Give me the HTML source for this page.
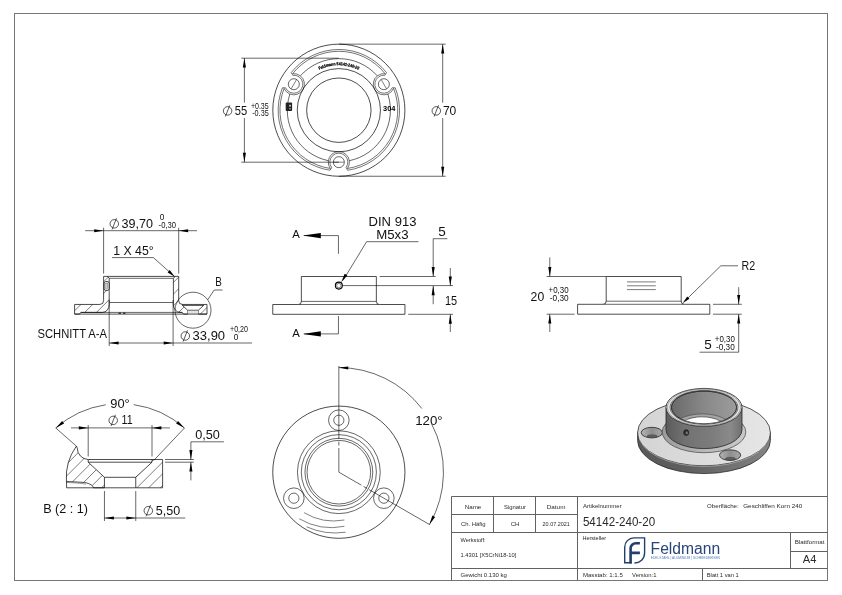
<!DOCTYPE html>
<html lang="de"><head><meta charset="utf-8"><title>54142-240-20</title>
<style>
html,body{margin:0;padding:0;background:#fff;}
body{width:842px;height:595px;overflow:hidden;}
svg{display:block;font-family:"Liberation Sans",sans-serif;will-change:transform;}
</style></head><body>
<svg width="842" height="595" viewBox="0 0 842 595">
<rect width="842" height="595" fill="#fff"/>
<rect x="14.5" y="13.5" width="813" height="567" fill="none" stroke="#767676" stroke-width="1"/>
<line x1="451.5" y1="496.5" x2="827.5" y2="496.5" stroke="#626262" stroke-width="1" />
<line x1="451.5" y1="496.5" x2="451.5" y2="580.5" stroke="#626262" stroke-width="1" />
<line x1="451.5" y1="514.5" x2="577.5" y2="514.5" stroke="#626262" stroke-width="1" />
<line x1="451.5" y1="532.5" x2="827.5" y2="532.5" stroke="#626262" stroke-width="1" />
<line x1="451.5" y1="568.5" x2="827.5" y2="568.5" stroke="#626262" stroke-width="1" />
<line x1="790.5" y1="551.5" x2="827.5" y2="551.5" stroke="#626262" stroke-width="1" />
<line x1="493.5" y1="496.5" x2="493.5" y2="532.5" stroke="#626262" stroke-width="1" />
<line x1="535.5" y1="496.5" x2="535.5" y2="532.5" stroke="#626262" stroke-width="1" />
<line x1="577.5" y1="496.5" x2="577.5" y2="580.5" stroke="#626262" stroke-width="1" />
<line x1="702.5" y1="568.5" x2="702.5" y2="580.5" stroke="#626262" stroke-width="1" />
<line x1="790.5" y1="532.5" x2="790.5" y2="568.5" stroke="#626262" stroke-width="1" />
<text x="464.7" y="508.5" font-size="6" text-anchor="start" fill="#2a2a2a" textLength="16.6" lengthAdjust="spacingAndGlyphs" >Name</text>
<text x="504" y="508.5" font-size="6" text-anchor="start" fill="#2a2a2a" textLength="22" lengthAdjust="spacingAndGlyphs" >Signatur</text>
<text x="546.8" y="508.5" font-size="6" text-anchor="start" fill="#2a2a2a" textLength="18.6" lengthAdjust="spacingAndGlyphs" >Datum</text>
<text x="460.9" y="525.9" font-size="6" text-anchor="start" fill="#2a2a2a" textLength="24.6" lengthAdjust="spacingAndGlyphs" >Ch. Häfig</text>
<text x="510.7" y="525.9" font-size="6" text-anchor="start" fill="#2a2a2a" textLength="8.8" lengthAdjust="spacingAndGlyphs" >CH</text>
<text x="542.6" y="525.9" font-size="6" text-anchor="start" fill="#2a2a2a" textLength="27.2" lengthAdjust="spacingAndGlyphs" >20.07.2021</text>
<text x="460.5" y="542.3" font-size="6" text-anchor="start" fill="#2a2a2a" textLength="25.2" lengthAdjust="spacingAndGlyphs" >Werkstoff:</text>
<text x="460.5" y="556.6" font-size="6" text-anchor="start" fill="#2a2a2a" textLength="55.8" lengthAdjust="spacingAndGlyphs" >1.4301 [X5CrNi18-10]</text>
<text x="460.5" y="577.1" font-size="6" text-anchor="start" fill="#2a2a2a" textLength="46.4" lengthAdjust="spacingAndGlyphs" >Gewicht 0.130 kg</text>
<text x="582.9" y="508.2" font-size="6" text-anchor="start" fill="#2a2a2a" textLength="38.8" lengthAdjust="spacingAndGlyphs" >Artikelnummer</text>
<text x="582.9" y="526" font-size="12.4" text-anchor="start" fill="#2a2a2a" textLength="72.2" lengthAdjust="spacingAndGlyphs" >54142-240-20</text>
<text x="707.1" y="508.2" font-size="6" text-anchor="start" fill="#2a2a2a" textLength="31.6" lengthAdjust="spacingAndGlyphs" >Oberfläche:</text>
<text x="743.2" y="508.2" font-size="6" text-anchor="start" fill="#2a2a2a" textLength="59.1" lengthAdjust="spacingAndGlyphs" >Geschliffen Korn 240</text>
<text x="582.4" y="540.1" font-size="6" text-anchor="start" fill="#2a2a2a" textLength="23.7" lengthAdjust="spacingAndGlyphs" >Hersteller</text>
<text x="794.7" y="544.3" font-size="6" text-anchor="start" fill="#2a2a2a" textLength="29.8" lengthAdjust="spacingAndGlyphs" >Blattformat</text>
<text x="802.8" y="562.9" font-size="10.6" text-anchor="start" fill="#2a2a2a" textLength="13.6" lengthAdjust="spacingAndGlyphs" >A4</text>
<text x="582.9" y="577.1" font-size="6" text-anchor="start" fill="#2a2a2a" textLength="39.9" lengthAdjust="spacingAndGlyphs" >Masstab: 1:1.5</text>
<text x="632.1" y="577.1" font-size="6" text-anchor="start" fill="#2a2a2a" textLength="24.4" lengthAdjust="spacingAndGlyphs" >Version:1</text>
<text x="706.8" y="577.1" font-size="6" text-anchor="start" fill="#2a2a2a" textLength="31.9" lengthAdjust="spacingAndGlyphs" >Blatt 1 van 1</text>
<circle cx="338.85" cy="110.2" r="66.05" stroke="#000" stroke-width="0.7" fill="none"/>
<circle cx="338.85" cy="110.2" r="41.6" stroke="#000" stroke-width="0.7" fill="none"/>
<circle cx="338.85" cy="110.2" r="32.2" stroke="#000" stroke-width="0.7" fill="none"/>
<path d="M330.33 168.48A58.9 58.9 0 0 1 284.12 88.43L284.12 88.43A10.6 10.6 0 1 0 292.64 73.68L292.64 73.68A58.9 58.9 0 0 1 385.06 73.68L385.06 73.68A10.6 10.6 0 1 0 393.58 88.43L393.58 88.43A58.9 58.9 0 0 1 347.37 168.48L347.37 168.48A10.6 10.6 0 1 0 330.33 168.48L330.33 168.48Z" stroke="#000" stroke-width="0.55" fill="none" stroke-linejoin="round"/>
<path d="M330.07 170.26A60.7 60.7 0 0 1 282.45 87.77L285.59 87.8A9 9 0 1 0 292.82 75.27L291.22 72.57A60.7 60.7 0 0 1 386.48 72.57L384.88 75.27A9 9 0 1 0 392.11 87.8L395.25 87.77A60.7 60.7 0 0 1 347.63 170.26L346.08 167.53A9 9 0 1 0 331.62 167.53L330.07 170.26Z" stroke="#000" stroke-width="0.55" fill="none" stroke-linejoin="round"/>
<path d="M328.39 160.7A51.57 51.57 0 0 1 289.89 94.01" stroke="#000" stroke-width="0.6" fill="none" />
<path d="M300.35 75.89A51.57 51.57 0 0 1 377.35 75.89" stroke="#000" stroke-width="0.6" fill="none" />
<path d="M387.81 94.01A51.57 51.57 0 0 1 349.31 160.7" stroke="#000" stroke-width="0.6" fill="none" />
<circle cx="338.85" cy="162.17" r="5.5" stroke="#000" stroke-width="0.6" fill="none"/>
<line x1="344.15" y1="162.17" x2="333.55" y2="162.17" stroke="#000" stroke-width="0.5" />
<circle cx="293.84" cy="84.22" r="5.5" stroke="#000" stroke-width="0.6" fill="none"/>
<line x1="291.19" y1="88.8" x2="296.49" y2="79.63" stroke="#000" stroke-width="0.5" />
<circle cx="383.86" cy="84.21" r="5.5" stroke="#000" stroke-width="0.6" fill="none"/>
<line x1="381.21" y1="79.63" x2="386.51" y2="88.8" stroke="#000" stroke-width="0.5" />
<path id="engr" d="M318.47 70.19A44.9 44.9 0 0 1 359.23 70.19" fill="none" stroke="none"/>
<text font-size="4.3" font-weight="bold" fill="#000" stroke="#000" stroke-width="0.25" text-anchor="middle"><textPath href="#engr" startOffset="50%" textLength="40.5" lengthAdjust="spacingAndGlyphs">Feldmann 54142-240-20</textPath></text>
<text x="389.3" y="110.6" font-size="6.4" text-anchor="middle" fill="#000" textLength="12.4" lengthAdjust="spacingAndGlyphs" font-weight="bold">304</text>
<rect x="285.7" y="102.6" width="6.4" height="8.4" rx="1" fill="#222"/>
<rect x="289" y="104.8" width="2" height="1.8" fill="#bbb"/>
<path d="M288.6 108.6h2.6l-1 1z" fill="#eee"/>
<line x1="241.3" y1="58.2" x2="338.85" y2="58.2" stroke="#000" stroke-width="0.6" />
<line x1="241.3" y1="162.2" x2="338.85" y2="162.2" stroke="#000" stroke-width="0.6" />
<line x1="244.4" y1="58.2" x2="244.4" y2="102.7" stroke="#000" stroke-width="0.6" />
<line x1="244.4" y1="118" x2="244.4" y2="162.2" stroke="#000" stroke-width="0.6" />
<polygon points="244.4,58.2 245.95,67.6 242.85,67.6" fill="#000"/>
<polygon points="244.4,162.2 242.85,152.8 245.95,152.8" fill="#000"/>
<circle cx="227.6" cy="110.9" r="4.25" stroke="#000" stroke-width="0.65" fill="none"/>
<line x1="225.39" y1="116.51" x2="229.81" y2="105.29" stroke="#000" stroke-width="0.65" />
<text x="234.7" y="114.9" font-size="13.5" text-anchor="start" fill="#111" textLength="12.4" lengthAdjust="spacingAndGlyphs" >55</text>
<text x="250.9" y="108.7" font-size="8.3" text-anchor="start" fill="#111" textLength="17.8" lengthAdjust="spacingAndGlyphs" >+0.35</text>
<text x="252.2" y="115.9" font-size="8.3" text-anchor="start" fill="#111" textLength="16.5" lengthAdjust="spacingAndGlyphs" >-0.35</text>
<line x1="338.85" y1="44.15" x2="445.7" y2="44.15" stroke="#000" stroke-width="0.6" />
<line x1="338.85" y1="176.25" x2="445.7" y2="176.25" stroke="#000" stroke-width="0.6" />
<line x1="442.7" y1="44.15" x2="442.7" y2="102.7" stroke="#000" stroke-width="0.6" />
<line x1="442.7" y1="118" x2="442.7" y2="176.25" stroke="#000" stroke-width="0.6" />
<polygon points="442.7,44.15 444.25,53.55 441.15,53.55" fill="#000"/>
<polygon points="442.7,176.25 441.15,166.85 444.25,166.85" fill="#000"/>
<circle cx="436.3" cy="110.9" r="4.25" stroke="#000" stroke-width="0.65" fill="none"/>
<line x1="434.09" y1="116.51" x2="438.51" y2="105.29" stroke="#000" stroke-width="0.65" />
<text x="442.9" y="114.9" font-size="13.5" text-anchor="start" fill="#111" textLength="13.4" lengthAdjust="spacingAndGlyphs" >70</text>
<clipPath id="hc1"><path d="M103.6 276.4L107.3 276.4L109.2 278.3L109.2 304.75A6.8 7.7 0 0 1 102.4 312.4L80.8 312.4L79.6 314.1L74.6 314.1L74.6 304.45L99.8 304.45Q103.6 304.45 103.6 300.65Z"/></clipPath>
<g clip-path="url(#hc1)">
<line x1="73.6" y1="276.61" x2="110.2" y2="240.01" stroke="#111" stroke-width="0.55" />
<line x1="73.6" y1="288.34" x2="110.2" y2="251.74" stroke="#111" stroke-width="0.55" />
<line x1="73.6" y1="300.07" x2="110.2" y2="263.47" stroke="#111" stroke-width="0.55" />
<line x1="73.6" y1="311.8" x2="110.2" y2="275.2" stroke="#111" stroke-width="0.55" />
<line x1="73.6" y1="323.53" x2="110.2" y2="286.93" stroke="#111" stroke-width="0.55" />
<line x1="73.6" y1="335.26" x2="110.2" y2="298.66" stroke="#111" stroke-width="0.55" />
<line x1="73.6" y1="346.99" x2="110.2" y2="310.39" stroke="#111" stroke-width="0.55" />
<line x1="73.6" y1="358.72" x2="110.2" y2="322.12" stroke="#111" stroke-width="0.55" />
</g>
<path d="M103.6 276.4L107.3 276.4L109.2 278.3L109.2 304.75A6.8 7.7 0 0 1 102.4 312.4L80.8 312.4L79.6 314.1L74.6 314.1L74.6 304.45L99.8 304.45Q103.6 304.45 103.6 300.65Z" stroke="#000" stroke-width="0.7" fill="none" />
<rect x="103.9" y="281.4" width="5.3" height="9.2" fill="#fff" stroke="none"/>
<rect x="104" y="281.7" width="5.2" height="8.6" rx="1.4" fill="#fff" stroke="#111" stroke-width="0.9"/>
<rect x="104.9" y="283.6" width="3" height="4.6" fill="#ccc" stroke="#555" stroke-width="0.4"/>
<clipPath id="hc2"><path d="M178.7 276.4L175.3 276.4L173.4 278.3L173.4 304.75A6.8 7.7 0 0 0 180.2 312.4L182.2 312.4L183.4 314.1L187.6 314.1L187.6 310.2L182.4 305.4L182.4 304.45L182.5 304.45Q178.7 304.45 178.7 300.65Z"/></clipPath>
<g clip-path="url(#hc2)">
<line x1="172.4" y1="271.65" x2="194" y2="250.05" stroke="#111" stroke-width="0.55" />
<line x1="172.4" y1="283.38" x2="194" y2="261.78" stroke="#111" stroke-width="0.55" />
<line x1="172.4" y1="295.11" x2="194" y2="273.51" stroke="#111" stroke-width="0.55" />
<line x1="172.4" y1="306.84" x2="194" y2="285.24" stroke="#111" stroke-width="0.55" />
<line x1="172.4" y1="318.57" x2="194" y2="296.97" stroke="#111" stroke-width="0.55" />
<line x1="172.4" y1="330.3" x2="194" y2="308.7" stroke="#111" stroke-width="0.55" />
<line x1="172.4" y1="342.03" x2="194" y2="320.43" stroke="#111" stroke-width="0.55" />
</g>
<path d="M178.7 276.4L175.3 276.4L173.4 278.3L173.4 304.75A6.8 7.7 0 0 0 180.2 312.4L182.2 312.4L183.4 314.1L187.6 314.1L187.6 310.2L182.4 305.4L182.4 304.45L182.5 304.45Q178.7 304.45 178.7 300.65Z" stroke="#000" stroke-width="0.7" fill="none" />
<clipPath id="hc3"><path d="M203.6 304.45L207 304.45L207 314.1L198.4 314.1L198.4 310.2L203.6 305.4Z"/></clipPath>
<g clip-path="url(#hc3)">
<line x1="192" y1="298.97" x2="208" y2="282.97" stroke="#111" stroke-width="0.55" />
<line x1="192" y1="310.7" x2="208" y2="294.7" stroke="#111" stroke-width="0.55" />
<line x1="192" y1="322.43" x2="208" y2="306.43" stroke="#111" stroke-width="0.55" />
<line x1="192" y1="334.16" x2="208" y2="318.16" stroke="#111" stroke-width="0.55" />
</g>
<path d="M203.6 304.45L207 304.45L207 314.1L198.4 314.1L198.4 310.2L203.6 305.4Z" stroke="#000" stroke-width="0.7" fill="none" />
<rect x="187.6" y="310.2" width="10.8" height="3.9" fill="#e4e4e4"/>
<line x1="182.4" y1="304.45" x2="203.6" y2="304.45" stroke="#000" stroke-width="0.7" />
<line x1="182.4" y1="305.4" x2="203.6" y2="305.4" stroke="#000" stroke-width="0.7" />
<line x1="187.6" y1="310.2" x2="198.4" y2="310.2" stroke="#000" stroke-width="0.6" />
<line x1="107.3" y1="276.4" x2="175.3" y2="276.4" stroke="#000" stroke-width="0.7" />
<line x1="109.2" y1="278.3" x2="173.4" y2="278.3" stroke="#000" stroke-width="0.6" />
<line x1="109.2" y1="302.5" x2="173.4" y2="302.5" stroke="#555" stroke-width="0.9" />
<line x1="80.8" y1="312.4" x2="182.2" y2="312.4" stroke="#000" stroke-width="0.6" />
<line x1="74.6" y1="314.1" x2="207" y2="314.1" stroke="#000" stroke-width="0.7" />
<line x1="118.5" y1="313.2" x2="121" y2="313.2" stroke="#000" stroke-width="1" />
<line x1="123" y1="313.2" x2="125.5" y2="313.2" stroke="#000" stroke-width="1" />
<line x1="85.2" y1="230.7" x2="197" y2="230.7" stroke="#000" stroke-width="0.6" />
<line x1="103.6" y1="227.7" x2="103.6" y2="273.6" stroke="#000" stroke-width="0.6" />
<line x1="178.7" y1="227.7" x2="178.7" y2="273.6" stroke="#000" stroke-width="0.6" />
<polygon points="103.6,230.7 94.2,232.25 94.2,229.15" fill="#000"/>
<polygon points="178.7,230.7 188.1,229.15 188.1,232.25" fill="#000"/>
<circle cx="114.3" cy="223.8" r="4.25" stroke="#000" stroke-width="0.65" fill="none"/>
<line x1="112.09" y1="229.41" x2="116.51" y2="218.19" stroke="#000" stroke-width="0.65" />
<text x="121.6" y="227.8" font-size="13.5" text-anchor="start" fill="#111" textLength="31.5" lengthAdjust="spacingAndGlyphs" >39,70</text>
<text x="162" y="220.2" font-size="8.3" text-anchor="middle" fill="#111" >0</text>
<text x="158.6" y="227.8" font-size="8.3" text-anchor="start" fill="#111" textLength="17.5" lengthAdjust="spacingAndGlyphs" >-0,30</text>
<text x="113.2" y="255" font-size="13.5" text-anchor="start" fill="#111" textLength="40.5" lengthAdjust="spacingAndGlyphs" >1 X 45°</text>
<line x1="112" y1="257.6" x2="153.4" y2="257.6" stroke="#000" stroke-width="0.6" />
<line x1="153.4" y1="257.6" x2="174.3" y2="276.3" stroke="#000" stroke-width="0.6" />
<polygon points="174.6,276.6 167.61,272.41 169.68,270.11" fill="#000"/>
<circle cx="193" cy="310.2" r="18" stroke="#000" stroke-width="0.6" fill="none"/>
<line x1="207.7" y1="299.8" x2="214.2" y2="290" stroke="#000" stroke-width="0.6" />
<line x1="214.2" y1="290" x2="222.6" y2="290" stroke="#000" stroke-width="0.6" />
<text x="215.2" y="286.3" font-size="13.5" text-anchor="start" fill="#111" textLength="6.6" lengthAdjust="spacingAndGlyphs" >B</text>
<line x1="109.2" y1="343" x2="252" y2="343" stroke="#000" stroke-width="0.6" />
<line x1="109.2" y1="300" x2="109.2" y2="346" stroke="#000" stroke-width="0.6" />
<line x1="173.1" y1="300" x2="173.1" y2="346" stroke="#000" stroke-width="0.6" />
<polygon points="109.2,343 118.6,341.45 118.6,344.55" fill="#000"/>
<polygon points="173.1,343 163.7,344.55 163.7,341.45" fill="#000"/>
<circle cx="185.3" cy="336" r="4.25" stroke="#000" stroke-width="0.65" fill="none"/>
<line x1="183.09" y1="341.61" x2="187.51" y2="330.39" stroke="#000" stroke-width="0.65" />
<text x="192.6" y="340" font-size="13.5" text-anchor="start" fill="#111" textLength="32.5" lengthAdjust="spacingAndGlyphs" >33,90</text>
<text x="230" y="332.4" font-size="8.3" text-anchor="start" fill="#111" textLength="18" lengthAdjust="spacingAndGlyphs" >+0,20</text>
<text x="236" y="340" font-size="8.3" text-anchor="middle" fill="#111" >0</text>
<text x="37.5" y="337.9" font-size="13.5" text-anchor="start" fill="#111" textLength="69.5" lengthAdjust="spacingAndGlyphs" >SCHNITT A-A</text>
<path d="M272.75 304.5H298.35Q301.35 304.5 301.35 301.3V276.5H376.35V301.3Q376.35 304.5 379.35 304.5H404.95V314.3H272.75Z" stroke="#000" stroke-width="0.7" fill="none" />
<line x1="301.35" y1="301.4" x2="376.35" y2="301.4" stroke="#000" stroke-width="0.6" />
<line x1="298.85" y1="304.5" x2="378.85" y2="304.5" stroke="#000" stroke-width="0.6" />
<circle cx="338.85" cy="285.6" r="3.5" stroke="#000" stroke-width="1.1" fill="none"/>
<circle cx="338.85" cy="285.6" r="2.2" stroke="#000" stroke-width="0.5" fill="none"/>
<line x1="343.2" y1="280.2" x2="366.6" y2="241.7" stroke="#000" stroke-width="0.6" />
<line x1="366.6" y1="241.7" x2="418.5" y2="241.7" stroke="#000" stroke-width="0.6" />
<polygon points="341.1,282.6 344.65,273.76 347.3,275.37" fill="#000"/>
<text x="368.6" y="225.8" font-size="13.5" text-anchor="start" fill="#111" textLength="47.8" lengthAdjust="spacingAndGlyphs" >DIN 913</text>
<text x="376.2" y="238.9" font-size="13.5" text-anchor="start" fill="#111" textLength="32.3" lengthAdjust="spacingAndGlyphs" >M5x3</text>
<line x1="338.45" y1="235.6" x2="338.45" y2="253.8" stroke="#000" stroke-width="0.6" />
<line x1="304" y1="235.6" x2="338.45" y2="235.6" stroke="#000" stroke-width="0.6" />
<polygon points="302.8,235.6 320.8,233 320.8,238.2" fill="#000"/>
<text x="292.3" y="238.2" font-size="10.5" text-anchor="start" fill="#111" textLength="7.6" lengthAdjust="spacingAndGlyphs" >A</text>
<line x1="338.45" y1="316" x2="338.45" y2="333.9" stroke="#000" stroke-width="0.6" />
<line x1="304" y1="333.9" x2="338.45" y2="333.9" stroke="#000" stroke-width="0.6" />
<polygon points="302.8,333.9 320.8,331.3 320.8,336.5" fill="#000"/>
<text x="292.3" y="337.3" font-size="10.5" text-anchor="start" fill="#111" textLength="7.6" lengthAdjust="spacingAndGlyphs" >A</text>
<text x="438.2" y="235.9" font-size="13.5" text-anchor="start" fill="#111" >5</text>
<line x1="433.2" y1="238.7" x2="447.4" y2="238.7" stroke="#000" stroke-width="0.6" />
<line x1="433.2" y1="238.7" x2="433.2" y2="276.3" stroke="#000" stroke-width="0.6" />
<polygon points="433.2,276.5 431.65,267.1 434.75,267.1" fill="#000"/>
<line x1="379.6" y1="276.5" x2="435.6" y2="276.5" stroke="#000" stroke-width="0.6" />
<line x1="343" y1="285.6" x2="453" y2="285.6" stroke="#000" stroke-width="0.6" />
<polygon points="433.2,285.8 434.75,295.2 431.65,295.2" fill="#000"/>
<line x1="433.2" y1="285.8" x2="433.2" y2="304.2" stroke="#000" stroke-width="0.6" />
<line x1="450.3" y1="268" x2="450.3" y2="285.8" stroke="#000" stroke-width="0.6" />
<polygon points="450.3,285.8 448.75,276.4 451.85,276.4" fill="#000"/>
<line x1="450.3" y1="314.3" x2="450.3" y2="332" stroke="#000" stroke-width="0.6" />
<polygon points="450.3,314.3 451.85,323.7 448.75,323.7" fill="#000"/>
<line x1="408.2" y1="314.3" x2="453" y2="314.3" stroke="#000" stroke-width="0.6" />
<text x="445" y="305.1" font-size="13.5" text-anchor="start" fill="#111" textLength="12.2" lengthAdjust="spacingAndGlyphs" >15</text>
<path d="M577.6 304.3H603.2Q606.2 304.3 606.2 301.1V276.5H681.2V301.1Q681.2 304.3 684.2 304.3H709.8V314.2H577.6Z" stroke="#000" stroke-width="0.7" fill="none" />
<line x1="606.2" y1="301.2" x2="681.2" y2="301.2" stroke="#000" stroke-width="0.6" />
<line x1="603.7" y1="304.3" x2="683.7" y2="304.3" stroke="#000" stroke-width="0.6" />
<line x1="627" y1="281.9" x2="655.8" y2="281.9" stroke="#222" stroke-width="0.6" />
<line x1="627" y1="285.8" x2="655.8" y2="285.8" stroke="#222" stroke-width="0.6" />
<line x1="627" y1="289.6" x2="655.8" y2="289.6" stroke="#222" stroke-width="0.6" />
<line x1="685.5" y1="300.4" x2="720.8" y2="265.8" stroke="#000" stroke-width="0.6" />
<line x1="720.8" y1="265.8" x2="738" y2="265.8" stroke="#000" stroke-width="0.6" />
<polygon points="682.6,303.2 687.23,296.5 689.4,298.71" fill="#000"/>
<text x="741.6" y="270.2" font-size="13.5" text-anchor="start" fill="#111" textLength="13.6" lengthAdjust="spacingAndGlyphs" >R2</text>
<line x1="549.8" y1="257.4" x2="549.8" y2="276.5" stroke="#000" stroke-width="0.6" />
<polygon points="549.8,276.5 548.25,267.1 551.35,267.1" fill="#000"/>
<line x1="549.8" y1="314.2" x2="549.8" y2="332" stroke="#000" stroke-width="0.6" />
<polygon points="549.8,314.2 551.35,323.6 548.25,323.6" fill="#000"/>
<line x1="546.6" y1="276.5" x2="606.2" y2="276.5" stroke="#000" stroke-width="0.6" />
<line x1="546.6" y1="314.2" x2="574.6" y2="314.2" stroke="#000" stroke-width="0.6" />
<text x="530.6" y="301.4" font-size="13.5" text-anchor="start" fill="#111" textLength="13.6" lengthAdjust="spacingAndGlyphs" >20</text>
<text x="548.6" y="292.6" font-size="8.3" text-anchor="start" fill="#111" textLength="20" lengthAdjust="spacingAndGlyphs" >+0,30</text>
<text x="549.8" y="300.6" font-size="8.3" text-anchor="start" fill="#111" textLength="18.8" lengthAdjust="spacingAndGlyphs" >-0,30</text>
<line x1="738.7" y1="287.2" x2="738.7" y2="304.3" stroke="#000" stroke-width="0.6" />
<polygon points="738.7,304.3 737.15,294.9 740.25,294.9" fill="#000"/>
<line x1="738.7" y1="314.2" x2="738.7" y2="352.2" stroke="#000" stroke-width="0.6" />
<polygon points="738.7,314.2 740.25,323.6 737.15,323.6" fill="#000"/>
<line x1="713" y1="304.3" x2="741.8" y2="304.3" stroke="#000" stroke-width="0.6" />
<line x1="713" y1="314.2" x2="741.8" y2="314.2" stroke="#000" stroke-width="0.6" />
<line x1="699.6" y1="352.2" x2="738.7" y2="352.2" stroke="#000" stroke-width="0.6" />
<text x="704.2" y="349.2" font-size="13.5" text-anchor="start" fill="#111" >5</text>
<text x="714.8" y="341.6" font-size="8.3" text-anchor="start" fill="#111" textLength="20" lengthAdjust="spacingAndGlyphs" >+0,30</text>
<text x="716" y="349.7" font-size="8.3" text-anchor="start" fill="#111" textLength="18.8" lengthAdjust="spacingAndGlyphs" >-0,30</text>
<clipPath id="hc4"><path d="M152 459.5H162.6V487.8H135.75V477.3L152 462.2Z"/></clipPath>
<g clip-path="url(#hc4)">
<line x1="134.75" y1="454.76" x2="163.6" y2="425.91" stroke="#111" stroke-width="0.55" />
<line x1="134.75" y1="466.49" x2="163.6" y2="437.64" stroke="#111" stroke-width="0.55" />
<line x1="134.75" y1="478.22" x2="163.6" y2="449.37" stroke="#111" stroke-width="0.55" />
<line x1="134.75" y1="489.95" x2="163.6" y2="461.1" stroke="#111" stroke-width="0.55" />
<line x1="134.75" y1="501.68" x2="163.6" y2="472.83" stroke="#111" stroke-width="0.55" />
<line x1="134.75" y1="513.41" x2="163.6" y2="484.56" stroke="#111" stroke-width="0.55" />
<line x1="134.75" y1="525.14" x2="163.6" y2="496.29" stroke="#111" stroke-width="0.55" />
</g>
<path d="M152 459.5H162.6V487.8H135.75V477.3L152 462.2Z" stroke="#000" stroke-width="0.7" fill="none" />
<clipPath id="hc5"><path d="M76.4 446.1L77.3 448.2A11.3 11.3 0 0 0 88.2 459.5V462.2L104.45 477.3V487.8H93.6C92.6 485 88.5 482.6 82 482.3C76 482 70 481.7 66.4 481.4A54 54 0 0 1 76.4 446.1Z"/></clipPath>
<g clip-path="url(#hc5)">
<line x1="59" y1="436.67" x2="105.45" y2="390.22" stroke="#111" stroke-width="0.55" />
<line x1="59" y1="448.4" x2="105.45" y2="401.95" stroke="#111" stroke-width="0.55" />
<line x1="59" y1="460.13" x2="105.45" y2="413.68" stroke="#111" stroke-width="0.55" />
<line x1="59" y1="471.86" x2="105.45" y2="425.41" stroke="#111" stroke-width="0.55" />
<line x1="59" y1="483.59" x2="105.45" y2="437.14" stroke="#111" stroke-width="0.55" />
<line x1="59" y1="495.32" x2="105.45" y2="448.87" stroke="#111" stroke-width="0.55" />
<line x1="59" y1="507.05" x2="105.45" y2="460.6" stroke="#111" stroke-width="0.55" />
<line x1="59" y1="518.78" x2="105.45" y2="472.33" stroke="#111" stroke-width="0.55" />
<line x1="59" y1="530.51" x2="105.45" y2="484.06" stroke="#111" stroke-width="0.55" />
<line x1="59" y1="542.24" x2="105.45" y2="495.79" stroke="#111" stroke-width="0.55" />
</g>
<path d="M76.4 446.1L77.3 448.2A11.3 11.3 0 0 0 88.2 459.5V462.2L104.45 477.3V487.8H93.6C92.6 485 88.5 482.6 82 482.3C76 482 70 481.7 66.4 481.4A54 54 0 0 1 76.4 446.1Z" stroke="#000" stroke-width="0.7" fill="none" />
<path d="M66.4 482.4C72 482.8 80 482.9 86 484.2" stroke="#333" stroke-width="0.5" fill="none" />
<line x1="66.5" y1="487.8" x2="104.45" y2="487.8" stroke="#000" stroke-width="0.7" />
<line x1="66.5" y1="481.4" x2="66.6" y2="487.8" stroke="#000" stroke-width="0.7" />
<line x1="88.2" y1="459.5" x2="152" y2="459.5" stroke="#000" stroke-width="0.7" />
<line x1="88.2" y1="462.2" x2="152" y2="462.2" stroke="#000" stroke-width="0.7" />
<line x1="104.45" y1="477.3" x2="135.75" y2="477.3" stroke="#000" stroke-width="0.7" />
<line x1="104.45" y1="487.8" x2="135.75" y2="487.8" stroke="#000" stroke-width="0.7" />
<line x1="55.75" y1="428.01" x2="76.4" y2="446.1" stroke="#000" stroke-width="0.6" />
<line x1="184.45" y1="428.01" x2="153.5" y2="460.7" stroke="#000" stroke-width="0.6" />
<path d="M55.75 428.01A97.3 97.3 0 0 1 105.72 404.77" stroke="#000" stroke-width="0.6" fill="none" />
<path d="M133.64 404.65A97.3 97.3 0 0 1 184.45 428.01" stroke="#000" stroke-width="0.6" fill="none" />
<polygon points="55.75,428.01 62.16,420.96 64.08,423.39" fill="#000"/>
<polygon points="184.45,428.01 176.12,423.39 178.04,420.96" fill="#000"/>
<text x="110.3" y="407.7" font-size="13.5" text-anchor="start" fill="#111" textLength="19.4" lengthAdjust="spacingAndGlyphs" >90°</text>
<line x1="71" y1="427.9" x2="169.9" y2="427.9" stroke="#000" stroke-width="0.6" />
<line x1="88.2" y1="425" x2="88.2" y2="456.5" stroke="#000" stroke-width="0.6" />
<line x1="152" y1="425" x2="152" y2="456.5" stroke="#000" stroke-width="0.6" />
<polygon points="88.2,427.9 78.8,429.45 78.8,426.35" fill="#000"/>
<polygon points="152,427.9 161.4,426.35 161.4,429.45" fill="#000"/>
<circle cx="113.2" cy="420.4" r="4.25" stroke="#000" stroke-width="0.65" fill="none"/>
<line x1="110.99" y1="426.01" x2="115.41" y2="414.79" stroke="#000" stroke-width="0.65" />
<text x="121.5" y="424.4" font-size="13.5" text-anchor="start" fill="#111" textLength="11.1" lengthAdjust="spacingAndGlyphs" >11</text>
<text x="195.2" y="438.8" font-size="13.5" text-anchor="start" fill="#111" textLength="24.7" lengthAdjust="spacingAndGlyphs" >0,50</text>
<line x1="190.9" y1="441.8" x2="223.9" y2="441.8" stroke="#000" stroke-width="0.6" />
<line x1="190.9" y1="441.8" x2="190.9" y2="459.5" stroke="#000" stroke-width="0.6" />
<polygon points="190.9,459.5 189.35,450.1 192.45,450.1" fill="#000"/>
<polygon points="190.9,462.2 192.45,471.6 189.35,471.6" fill="#000"/>
<line x1="190.9" y1="462.2" x2="190.9" y2="480.4" stroke="#000" stroke-width="0.6" />
<line x1="165" y1="459.5" x2="193.8" y2="459.5" stroke="#000" stroke-width="0.6" />
<line x1="165" y1="462.2" x2="193.8" y2="462.2" stroke="#000" stroke-width="0.6" />
<line x1="104.45" y1="518" x2="185.3" y2="518" stroke="#000" stroke-width="0.6" />
<line x1="104.45" y1="491" x2="104.45" y2="521" stroke="#000" stroke-width="0.6" />
<line x1="135.75" y1="491" x2="135.75" y2="521" stroke="#000" stroke-width="0.6" />
<polygon points="104.45,518 113.85,516.45 113.85,519.55" fill="#000"/>
<polygon points="135.75,518 126.35,519.55 126.35,516.45" fill="#000"/>
<circle cx="148.3" cy="510.7" r="4.25" stroke="#000" stroke-width="0.65" fill="none"/>
<line x1="146.09" y1="516.31" x2="150.51" y2="505.09" stroke="#000" stroke-width="0.65" />
<text x="155.8" y="514.7" font-size="13.5" text-anchor="start" fill="#111" textLength="24.4" lengthAdjust="spacingAndGlyphs" >5,50</text>
<text x="43.2" y="513.3" font-size="13.5" text-anchor="start" fill="#111" textLength="44.8" lengthAdjust="spacingAndGlyphs" >B (2 : 1)</text>
<circle cx="338.85" cy="472.2" r="66.1" stroke="#000" stroke-width="0.7" fill="none"/>
<circle cx="338.85" cy="472.2" r="41.4" stroke="#000" stroke-width="0.6" fill="none"/>
<circle cx="338.85" cy="472.2" r="37.55" stroke="#000" stroke-width="0.6" fill="none"/>
<circle cx="338.85" cy="472.2" r="33.9" stroke="#000" stroke-width="0.6" fill="none"/>
<circle cx="338.85" cy="472.2" r="31.8" stroke="#000" stroke-width="0.6" fill="none"/>
<circle cx="338.85" cy="420.23" r="10.3" stroke="#000" stroke-width="0.6" fill="none"/>
<circle cx="338.85" cy="420.23" r="5.1" stroke="#000" stroke-width="0.6" fill="none"/>
<circle cx="383.86" cy="498.19" r="10.3" stroke="#000" stroke-width="0.6" fill="none"/>
<circle cx="383.86" cy="498.19" r="5.1" stroke="#000" stroke-width="0.6" fill="none"/>
<circle cx="293.84" cy="498.19" r="10.3" stroke="#000" stroke-width="0.6" fill="none"/>
<circle cx="293.84" cy="498.19" r="5.1" stroke="#000" stroke-width="0.6" fill="none"/>
<path d="M304.1 512.7A58 58 0 0 0 344.4 520" stroke="#000" stroke-width="0.5" fill="none" />
<path d="M299.3 518.8A64 64 0 0 0 344.4 526.3" stroke="#000" stroke-width="0.5" fill="none" />
<path d="M306.6 526.8A70 70 0 0 0 345.6 532.2" stroke="#000" stroke-width="0.5" fill="none" />
<line x1="338.85" y1="366" x2="338.85" y2="472.2" stroke="#000" stroke-width="0.6" stroke-dasharray="73 2.5 4 2.5 30"/>
<line x1="338.85" y1="472.2" x2="429.78" y2="524.7" stroke="#000" stroke-width="0.6" stroke-dasharray="26 2.5 4 2.5 80"/>
<path d="M338.85 367.6A104.6 104.6 0 0 1 421.83 408.52" stroke="#000" stroke-width="0.6" fill="none" />
<path d="M431.63 423.9A104.6 104.6 0 0 1 429.44 524.5" stroke="#000" stroke-width="0.6" fill="none" />
<polygon points="338.85,367.6 348.31,366.46 348.17,369.56" fill="#000"/>
<polygon points="429.44,524.5 432.4,515.45 435.15,516.88" fill="#000"/>
<text x="415.2" y="424.9" font-size="13.5" text-anchor="start" fill="#111" textLength="27.4" lengthAdjust="spacingAndGlyphs" >120°</text>
<defs>
<linearGradient id="gEdge" x1="0" x2="1" y1="0" y2="0"><stop offset="0" stop-color="#5a5a5a"/><stop offset="0.35" stop-color="#5e5e5e"/><stop offset="0.75" stop-color="#747474"/><stop offset="1" stop-color="#848484"/></linearGradient>
<linearGradient id="gTop" x1="0" x2="1" y1="0" y2="0"><stop offset="0" stop-color="#d4d4d4"/><stop offset="0.5" stop-color="#dcdcdc"/><stop offset="1" stop-color="#e6e6e6"/></linearGradient>
<linearGradient id="gTube" x1="0" x2="1" y1="0" y2="0"><stop offset="0" stop-color="#5c5c5c"/><stop offset="0.25" stop-color="#727272"/><stop offset="0.6" stop-color="#7c7c7c"/><stop offset="0.85" stop-color="#8a8a8a"/><stop offset="1" stop-color="#707070"/></linearGradient>
<linearGradient id="gBore" x1="0" x2="1" y1="0" y2="0"><stop offset="0" stop-color="#6a6a6a"/><stop offset="0.5" stop-color="#888"/><stop offset="1" stop-color="#9c9c9c"/></linearGradient>
<linearGradient id="gHole" x1="0" x2="1" y1="0" y2="0"><stop offset="0" stop-color="#b4b4b4"/><stop offset="0.5" stop-color="#8e8e8e"/><stop offset="1" stop-color="#a8a8a8"/></linearGradient>
<linearGradient id="gFil" x1="0" x2="1" y1="0" y2="0"><stop offset="0" stop-color="#9a9a9a"/><stop offset="0.5" stop-color="#b8b8b8"/><stop offset="1" stop-color="#c8c8c8"/></linearGradient>
<clipPath id="cBore"><ellipse cx="704" cy="407.4" rx="32.6" ry="16.3"/></clipPath>
</defs>
<path d="M637.6 432.6V440.4A66.4 33.2 0 0 0 770.4 440.4V432.6Z" fill="url(#gEdge)" stroke="#2e2e2e" stroke-width="0.8"/>
<ellipse cx="704" cy="432.6" rx="66.4" ry="33.2" fill="url(#gTop)" stroke="#2e2e2e" stroke-width="0.8"/>
<path d="M638.8 434.1A65.2 32.3 0 0 0 769.2 434.1" fill="none" stroke="#f4f4f4" stroke-width="0.9" opacity="0.45"/>
<ellipse cx="651.8" cy="432.6" rx="10.6" ry="5.3" fill="url(#gHole)" stroke="#222" stroke-width="0.8"/>
<ellipse cx="652.1" cy="436.2" rx="5" ry="1.5" fill="#5e5e5e" stroke="#333" stroke-width="0.4"/>
<ellipse cx="730.1" cy="455.12" rx="10.6" ry="5.3" fill="url(#gHole)" stroke="#222" stroke-width="0.8"/>
<ellipse cx="730.4" cy="458.72" rx="5" ry="1.5" fill="#5e5e5e" stroke="#333" stroke-width="0.4"/>
<ellipse cx="704" cy="432" rx="41.8" ry="20.7" fill="url(#gFil)" stroke="#444" stroke-width="0.7"/>
<path d="M666 407.4V429.6A38 19 0 0 0 742 429.6V407.4Z" fill="url(#gTube)" stroke="#262626" stroke-width="0.8"/>
<ellipse cx="704" cy="407.4" rx="38" ry="19" fill="#e4e4e4" stroke="#262626" stroke-width="0.8"/>
<ellipse cx="704" cy="407.4" rx="36.6" ry="18.3" fill="none" stroke="#666" stroke-width="0.5"/>
<ellipse cx="704" cy="407.4" rx="34" ry="17" fill="#cfcfcf" stroke="#333" stroke-width="0.6"/>
<ellipse cx="704" cy="407.4" rx="32.6" ry="16.3" fill="url(#gBore)" stroke="#262626" stroke-width="0.7"/>
<g clip-path="url(#cBore)">
<ellipse cx="702.5" cy="428.9" rx="30" ry="15" fill="#a4a4a4" stroke="#444" stroke-width="0.6"/>
<ellipse cx="702" cy="431.4" rx="26" ry="14.6" fill="#fff" stroke="#3a3a3a" stroke-width="0.7"/>
</g>
<ellipse cx="704" cy="407.4" rx="32.6" ry="16.3" fill="none" stroke="#262626" stroke-width="0.7"/>
<ellipse cx="686.2" cy="432.6" rx="2.6" ry="3" fill="#2e2e2e" stroke="#1a1a1a" stroke-width="0.5"/>
<ellipse cx="686.8" cy="432.9" rx="1.1" ry="1.3" fill="#777"/>
<path d="M631.8 562.8H624.7V547.2A9.2 9.2 0 0 1 633.9 537.9H644.6V553A10 10 0 0 1 634.4 563" fill="none" stroke="#233f6c" stroke-width="1.4"/>
<path d="M630.6 563.4V548.4A5.2 5.2 0 0 1 635.8 543.2H639.9M630.6 552.9H639.9" fill="none" stroke="#233f6c" stroke-width="2.6"/>
<text x="650.6" y="554" font-size="15.6" text-anchor="start" fill="#28457a" textLength="69.6" lengthAdjust="spacingAndGlyphs" >Feldmann</text>
<text x="650.8" y="559.4" font-size="2.9" text-anchor="start" fill="#4f7fb8" textLength="69.2" lengthAdjust="spacingAndGlyphs" >EDELSTAHL | ALUMINIUM | SCHMIEDEEISEN</text>
</svg>
</body></html>
